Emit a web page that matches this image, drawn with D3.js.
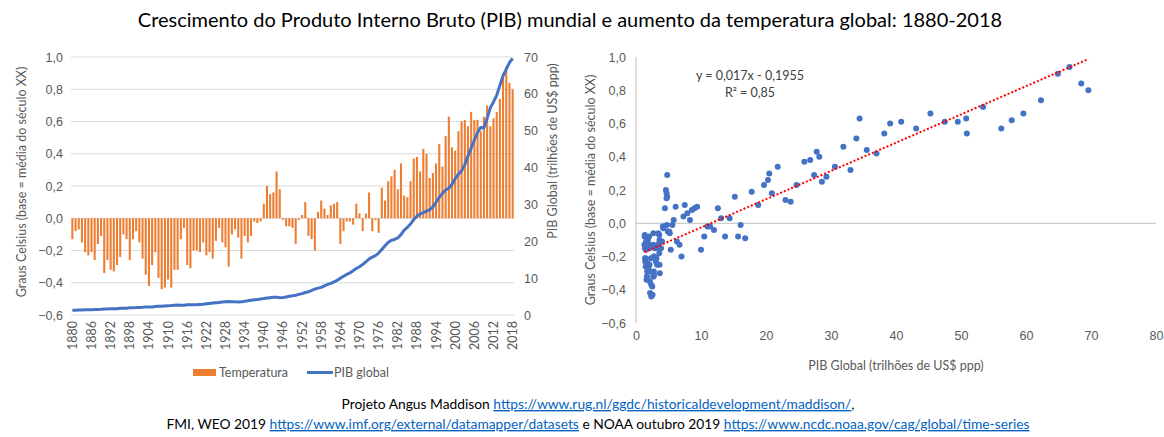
<!DOCTYPE html>
<html>
<head>
<meta charset="utf-8">
<script src="https://cdn.jsdelivr.net/npm/d3@7"></script>
<style>
  body { margin: 0; background: #fff; }
  svg { font-family: Lato, "Open Sans", sans-serif; }
  .tick text { fill: #595959; font-size: 12.5px; }
</style>
</head>
<body>
<div id="chart"></div>
<script>
// anos 1880-2018
const years = d3.range(1880, 2019);

// anomalia de temperatura (graus C, base = media do seculo XX)
const temperatura = [
  -0.13, -0.08, -0.07, -0.15, -0.21, -0.23, -0.21, -0.26, -0.16, -0.11,
  -0.34, -0.26, -0.32, -0.33, -0.29, -0.24, -0.10, -0.13, -0.26, -0.13,
  -0.08, -0.15, -0.25, -0.35, -0.42, -0.29, -0.21, -0.37, -0.44, -0.43,
  -0.38, -0.43, -0.32, -0.32, -0.13, -0.06, -0.29, -0.31, -0.20, -0.20,
  -0.21, -0.15, -0.23, -0.21, -0.25, -0.14, -0.06, -0.15, -0.18, -0.30,
  -0.10, -0.07, -0.12, -0.25, -0.11, -0.15, -0.11, -0.02, -0.03, -0.02,
  0.09, 0.20, 0.15, 0.16, 0.29, 0.18, -0.01, -0.05, -0.05, -0.06,
  -0.16, -0.01, 0.02, 0.10, -0.11, -0.13, -0.20, 0.04, 0.11, 0.06,
  0.02, 0.08, 0.09, 0.10, -0.16, -0.08, -0.02, -0.02, -0.04, 0.09,
  0.03, -0.08, 0.03, 0.16, -0.08, -0.01, -0.09, 0.19, 0.11, 0.23,
  0.26, 0.30, 0.18, 0.34, 0.14, 0.13, 0.23, 0.37, 0.38, 0.29,
  0.43, 0.40, 0.25, 0.28, 0.34, 0.46, 0.32, 0.51, 0.63, 0.44,
  0.42, 0.54, 0.60, 0.61, 0.57, 0.66, 0.61, 0.61, 0.54, 0.63,
  0.70, 0.57, 0.62, 0.66, 0.74, 0.90, 0.94, 0.84, 0.80
];

// PIB global (trilhoes de US$ ppp)
const pib = [
  1.30, 1.32, 1.36, 1.38, 1.40, 1.42, 1.45, 1.50, 1.52, 1.55,
  1.62, 1.64, 1.68, 1.68, 1.72, 1.80, 1.84, 1.86, 1.95, 2.00,
  2.02, 2.06, 2.08, 2.14, 2.16, 2.20, 2.30, 2.35, 2.35, 2.42,
  2.50, 2.55, 2.65, 2.72, 2.66, 2.66, 2.75, 2.75, 2.76, 2.78,
  2.85, 2.90, 3.05, 3.15, 3.25, 3.35, 3.42, 3.50, 3.58, 3.66,
  3.62, 3.58, 3.56, 3.62, 3.72, 3.85, 4.00, 4.12, 4.20, 4.32,
  4.45, 4.60, 4.70, 4.80, 4.80, 4.70, 4.75, 4.90, 5.10, 5.20,
  5.35, 5.60, 5.80, 6.10, 6.30, 6.70, 7.00, 7.30, 7.50, 7.90,
  8.30, 8.60, 9.00, 9.40, 10.0, 10.5, 11.0, 11.4, 12.0, 12.6,
  13.1, 13.7, 14.4, 15.2, 15.7, 16.1, 16.8, 17.8, 18.8, 19.7,
  20.3, 20.5, 20.9, 21.8, 23.0, 23.8, 24.7, 25.9, 26.8, 27.4,
  27.8, 28.2, 28.6, 29.3, 30.6, 31.9, 33.0, 33.9, 34.4, 35.5,
  37.0, 38.2, 39.1, 40.8, 43.1, 45.3, 47.5, 49.5, 50.9, 50.8,
  53.4, 56.2, 57.8, 59.6, 62.3, 64.9, 66.7, 68.5, 69.6
];

const tempTicks = [-0.6, -0.4, -0.2, 0, 0.2, 0.4, 0.6, 0.8, 1.0];
const pibTicks = [0, 10, 20, 30, 40, 50, 60, 70];
const yearTicks = d3.range(1880, 2019, 6);
const scatterXTicks = [0, 10, 20, 30, 40, 50, 60, 70, 80];

// linha de tendencia (coeficientes do grafico)
const trendA = 0.017, trendB = -0.1955;
const trendText = ["y = 0,017x - 0,1955", "R\u00b2 = 0,85"];

const title = "Crescimento do Produto Interno Bruto (PIB) mundial e aumento da temperatura global: 1880-2018";
const yTitle = "Graus Celsius (base = m\u00e9dia do s\u00e9culo XX)";
const pibTitle = "PIB Global (trilh\u00f5es de US$ ppp)";

const fmt = d => d3.format(".1f")(d).replace(".", ",");
const orange = "#ed7d31", blue = "#4472c4", grid = "#d9d9d9", txt = "#595959";

const svg = d3.select("#chart").append("svg")
  .attr("width", 1164).attr("height", 437);

svg.append("text")
  .attr("x", 570).attr("y", 27)
  .attr("text-anchor", "middle")
  .style("font-size", "20px")
  .attr("fill", "#000")
  .text(title);

// ---------- grafico esquerdo ----------
const L = {left: 71, right: 514, top: 57, bottom: 315};

const x = d3.scaleBand()
  .domain(years)
  .range([L.left, L.right])
  .paddingInner(0.35).paddingOuter(0.1);

const yT = d3.scaleLinear().domain([-0.6, 1.0]).range([L.bottom, L.top]);
const yP = d3.scaleLinear().domain([0, 70]).range([L.bottom, L.top]);

const left = svg.append("g");

left.append("g")
  .selectAll("line")
  .data(tempTicks)
  .join("line")
  .attr("x1", L.left).attr("x2", L.right)
  .attr("y1", d => yT(d)).attr("y2", d => yT(d))
  .attr("stroke", grid).attr("stroke-width", 1);

left.append("g")
  .attr("transform", `translate(${L.left - 6},0)`)
  .call(d3.axisLeft(yT).tickValues(tempTicks).tickFormat(fmt).tickSize(0).tickPadding(2))
  .call(g => g.select(".domain").remove());

left.append("g")
  .attr("transform", `translate(${L.right + 8},0)`)
  .call(d3.axisRight(yP).tickValues(pibTicks).tickFormat(d3.format("d")).tickSize(0).tickPadding(2))
  .call(g => g.select(".domain").remove());

left.append("g")
  .selectAll("rect")
  .data(years)
  .join("rect")
  .attr("fill", orange)
  .attr("x", d => x(d))
  .attr("width", x.bandwidth())
  .attr("y", (d, i) => Math.min(yT(0), yT(temperatura[i])))
  .attr("height", (d, i) => Math.abs(yT(temperatura[i]) - yT(0)));

left.append("path")
  .datum(years)
  .attr("fill", "none")
  .attr("stroke", blue)
  .attr("stroke-width", 3)
  .attr("stroke-linejoin", "round")
  .attr("d", d3.line()
    .x(d => x(d) + x.bandwidth() / 2)
    .y((d, i) => yP(pib[i])));

// rotulos dos anos
left.append("g")
  .selectAll("text")
  .data(yearTicks)
  .join("text")
  .attr("transform", d => `translate(${x(d) + x.bandwidth() / 2 + 4.5},${L.bottom + 6}) rotate(-90)`)
  .attr("text-anchor", "end")
  .attr("fill", txt)
  .style("font-size", "12.5px")
  .text(d => d);

left.append("text")
  .attr("transform", `translate(26,${(L.top + L.bottom) / 2 - 4}) rotate(-90)`)
  .attr("text-anchor", "middle")
  .attr("fill", txt)
  .style("font-size", "12.5px")
  .text(yTitle);

left.append("text")
  .attr("transform", `translate(557,${(L.top + L.bottom) / 2 - 35}) rotate(-90)`)
  .attr("text-anchor", "middle")
  .attr("fill", txt)
  .style("font-size", "12.5px")
  .text(pibTitle);

// legenda
const leg = svg.append("g").attr("transform", "translate(193,372)");
leg.append("rect").attr("x", 0).attr("y", -3).attr("width", 23).attr("height", 7).attr("fill", orange);
leg.append("text").attr("x", 26).attr("y", 4.5).attr("fill", txt).style("font-size", "12.5px").text("Temperatura");
leg.append("line").attr("x1", 114).attr("x2", 140).attr("y1", 0.5).attr("y2", 0.5)
  .attr("stroke", blue).attr("stroke-width", 3);
leg.append("text").attr("x", 141).attr("y", 4.5).attr("fill", txt).style("font-size", "12.5px").text("PIB global");

// ---------- grafico de dispersao ----------
const R = {left: 636, right: 1156, top: 57, bottom: 323};
const sx = d3.scaleLinear().domain([0, 80]).range([R.left, R.right]);
const sy = d3.scaleLinear().domain([-0.6, 1.0]).range([R.bottom, R.top]);

const right = svg.append("g");

right.append("line")
  .attr("x1", R.left).attr("x2", R.left)
  .attr("y1", R.top).attr("y2", R.bottom)
  .attr("stroke", "#bfbfbf");
right.append("line")
  .attr("x1", R.left).attr("x2", R.right)
  .attr("y1", sy(0)).attr("y2", sy(0))
  .attr("stroke", "#bfbfbf");

right.append("g")
  .attr("transform", `translate(${R.left - 8},0)`)
  .call(d3.axisLeft(sy).tickValues(tempTicks).tickFormat(fmt).tickSize(0).tickPadding(2))
  .call(g => g.select(".domain").remove());

right.append("g")
  .attr("transform", `translate(0,${R.bottom + 6})`)
  .call(d3.axisBottom(sx).tickValues(scatterXTicks).tickFormat(d3.format("d")).tickSize(0).tickPadding(2))
  .call(g => g.select(".domain").remove());

right.append("g")
  .selectAll("circle")
  .data(years)
  .join("circle")
  .attr("cx", (d, i) => sx(pib[i]))
  .attr("cy", (d, i) => sy(temperatura[i]))
  .attr("r", 3)
  .attr("fill", blue);

const xMin = d3.min(pib), xMax = d3.max(pib);
right.append("line")
  .attr("x1", sx(xMin)).attr("y1", sy(trendA * xMin + trendB))
  .attr("x2", sx(xMax)).attr("y2", sy(trendA * xMax + trendB))
  .attr("stroke", "#ff0000")
  .attr("stroke-width", 2)
  .attr("stroke-dasharray", "2,2");

right.append("g")
  .selectAll("text")
  .data(trendText)
  .join("text")
  .attr("x", 750)
  .attr("y", (d, i) => 80 + i * 17)
  .attr("text-anchor", "middle")
  .attr("fill", "#404040")
  .style("font-size", "12.5px")
  .text(d => d);

right.append("text")
  .attr("transform", `translate(595,${(R.top + R.bottom) / 2}) rotate(-90)`)
  .attr("text-anchor", "middle")
  .attr("fill", txt)
  .style("font-size", "12.5px")
  .text(yTitle);

right.append("text")
  .attr("x", (R.left + R.right) / 2).attr("y", 370)
  .attr("text-anchor", "middle")
  .attr("fill", txt)
  .style("font-size", "12.5px")
  .text(pibTitle);

// ---------- fontes ----------
const src = svg.append("g").style("font-size", "13.8px");

const line1 = src.append("text").attr("x", 598).attr("y", 409).attr("text-anchor", "middle");
line1.append("tspan").attr("fill", "#000").text("Projeto Angus Maddison ");
line1.append("tspan").attr("fill", "#0563c1").style("text-decoration", "underline")
  .text("https://www.rug.nl/ggdc/historicaldevelopment/maddison/");
line1.append("tspan").attr("fill", "#000").text(",");

const line2 = src.append("text").attr("x", 598).attr("y", 429).attr("text-anchor", "middle");
line2.append("tspan").attr("fill", "#000").text("FMI, WEO 2019 ");
line2.append("tspan").attr("fill", "#0563c1").style("text-decoration", "underline")
  .text("https://www.imf.org/external/datamapper/datasets");
line2.append("tspan").attr("fill", "#000").text(" e NOAA outubro 2019 ");
line2.append("tspan").attr("fill", "#0563c1").style("text-decoration", "underline")
  .text("https://www.ncdc.noaa.gov/cag/global/time-series");
</script>
</body>
</html>
